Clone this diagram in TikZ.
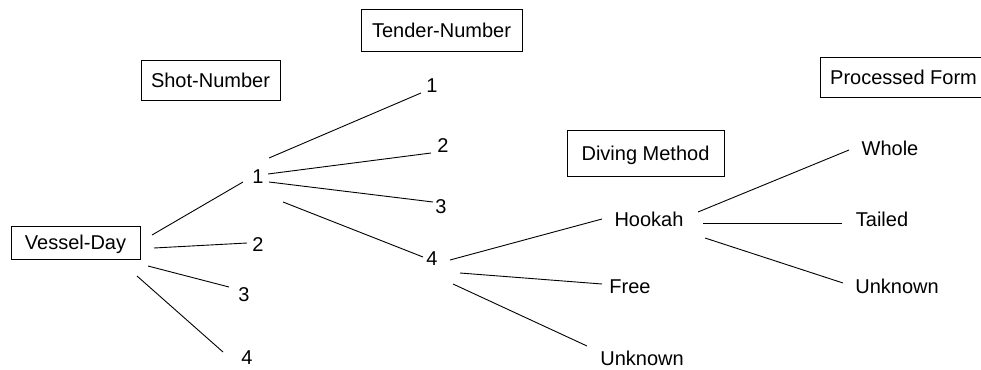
\documentclass[tikz,border=0pt]{standalone}
\usepackage{fontspec}
\setmainfont{Liberation Sans}
\begin{document}
\begin{tikzpicture}[x=1pt,y=-1pt,
  lbl/.style={inner sep=0pt,text height=14.4pt,text depth=0pt,font=\fontsize{20}{24}\selectfont},
  hdr/.style={draw,line width=0.9pt,inner sep=0pt,text height=14.4pt,text depth=0pt,font=\fontsize{20}{24}\selectfont},
  conn/.style={line width=0.9pt}]
\useasboundingbox[fill=white] (0,0) rectangle (981,369);
% header boxes
\node[hdr,minimum width=129pt,minimum height=33pt] (vd) at (75.5,242.5) {Vessel-Day};
\node[hdr,minimum width=139pt,minimum height=40pt] (hshot) at (210.5,80) {Shot-Number};
\node[hdr,minimum width=161pt,minimum height=42pt] (htender) at (441.5,30) {Tender-Number};
\node[hdr,minimum width=157pt,minimum height=46pt] (hdive) at (645.5,153) {Diving Method};
\node[hdr,minimum width=167pt,minimum height=40pt] (hproc) at (903.5,77) {Processed Form};
% labels
\node[lbl] (s1) at (258,176) {1};
\node[lbl] (s2) at (258,244) {2};
\node[lbl] (s3) at (244,294) {3};
\node[lbl] (s4) at (247,357) {4};
\node[lbl] (t1) at (432,85) {1};
\node[lbl] (t2) at (443,145) {2};
\node[lbl] (t3) at (441,206) {3};
\node[lbl] (t4) at (432,258) {4};
\node[lbl] (hook) at (649,219) {Hookah};
\node[lbl] (free) at (630,286) {Free};
\node[lbl] (unk1) at (642,358.5) {Unknown};
\node[lbl] (whole) at (890,148) {Whole};
\node[lbl] (tailed) at (882,219) {Tailed};
\node[lbl] (unk2) at (897,286) {Unknown};
% connectors
\draw[conn] ([shift={(76.5,-7.5)}]vd.center) -- ([shift={(-15,6)}]s1.center);
\draw[conn] ([shift={(78.5,5.5)}]vd.center) -- ([shift={(-11,-1)}]s2.center);
\draw[conn] ([shift={(72.5,23.5)}]vd.center) -- ([shift={(-15,-7)}]s3.center);
\draw[conn] ([shift={(61.5,33.5)}]vd.center) -- ([shift={(-24,-5)}]s4.center);
\draw[conn] ([shift={(11,-18)}]s1.center) -- ([shift={(-11,8)}]t1.center);
\draw[conn] ([shift={(10,-2)}]s1.center) -- ([shift={(-12,8)}]t2.center);
\draw[conn] ([shift={(11,6)}]s1.center) -- ([shift={(-8,-4)}]t3.center);
\draw[conn] ([shift={(25,26)}]s1.center) -- ([shift={(-9,-1)}]t4.center);
\draw[conn] ([shift={(18,2)}]t4.center) -- ([shift={(-47,0)}]hook.center);
\draw[conn] ([shift={(28,15)}]t4.center) -- ([shift={(-28,-2)}]free.center);
\draw[conn] ([shift={(21,26)}]t4.center) -- ([shift={(-55,-12.5)}]unk1.center);
\draw[conn] ([shift={(49,-7)}]hook.center) -- ([shift={(-41,2)}]whole.center);
\draw[conn] ([shift={(54,4)}]hook.center) -- ([shift={(-40,4)}]tailed.center);
\draw[conn] ([shift={(56,19)}]hook.center) -- ([shift={(-54,-3)}]unk2.center);
\end{tikzpicture}
\end{document}
